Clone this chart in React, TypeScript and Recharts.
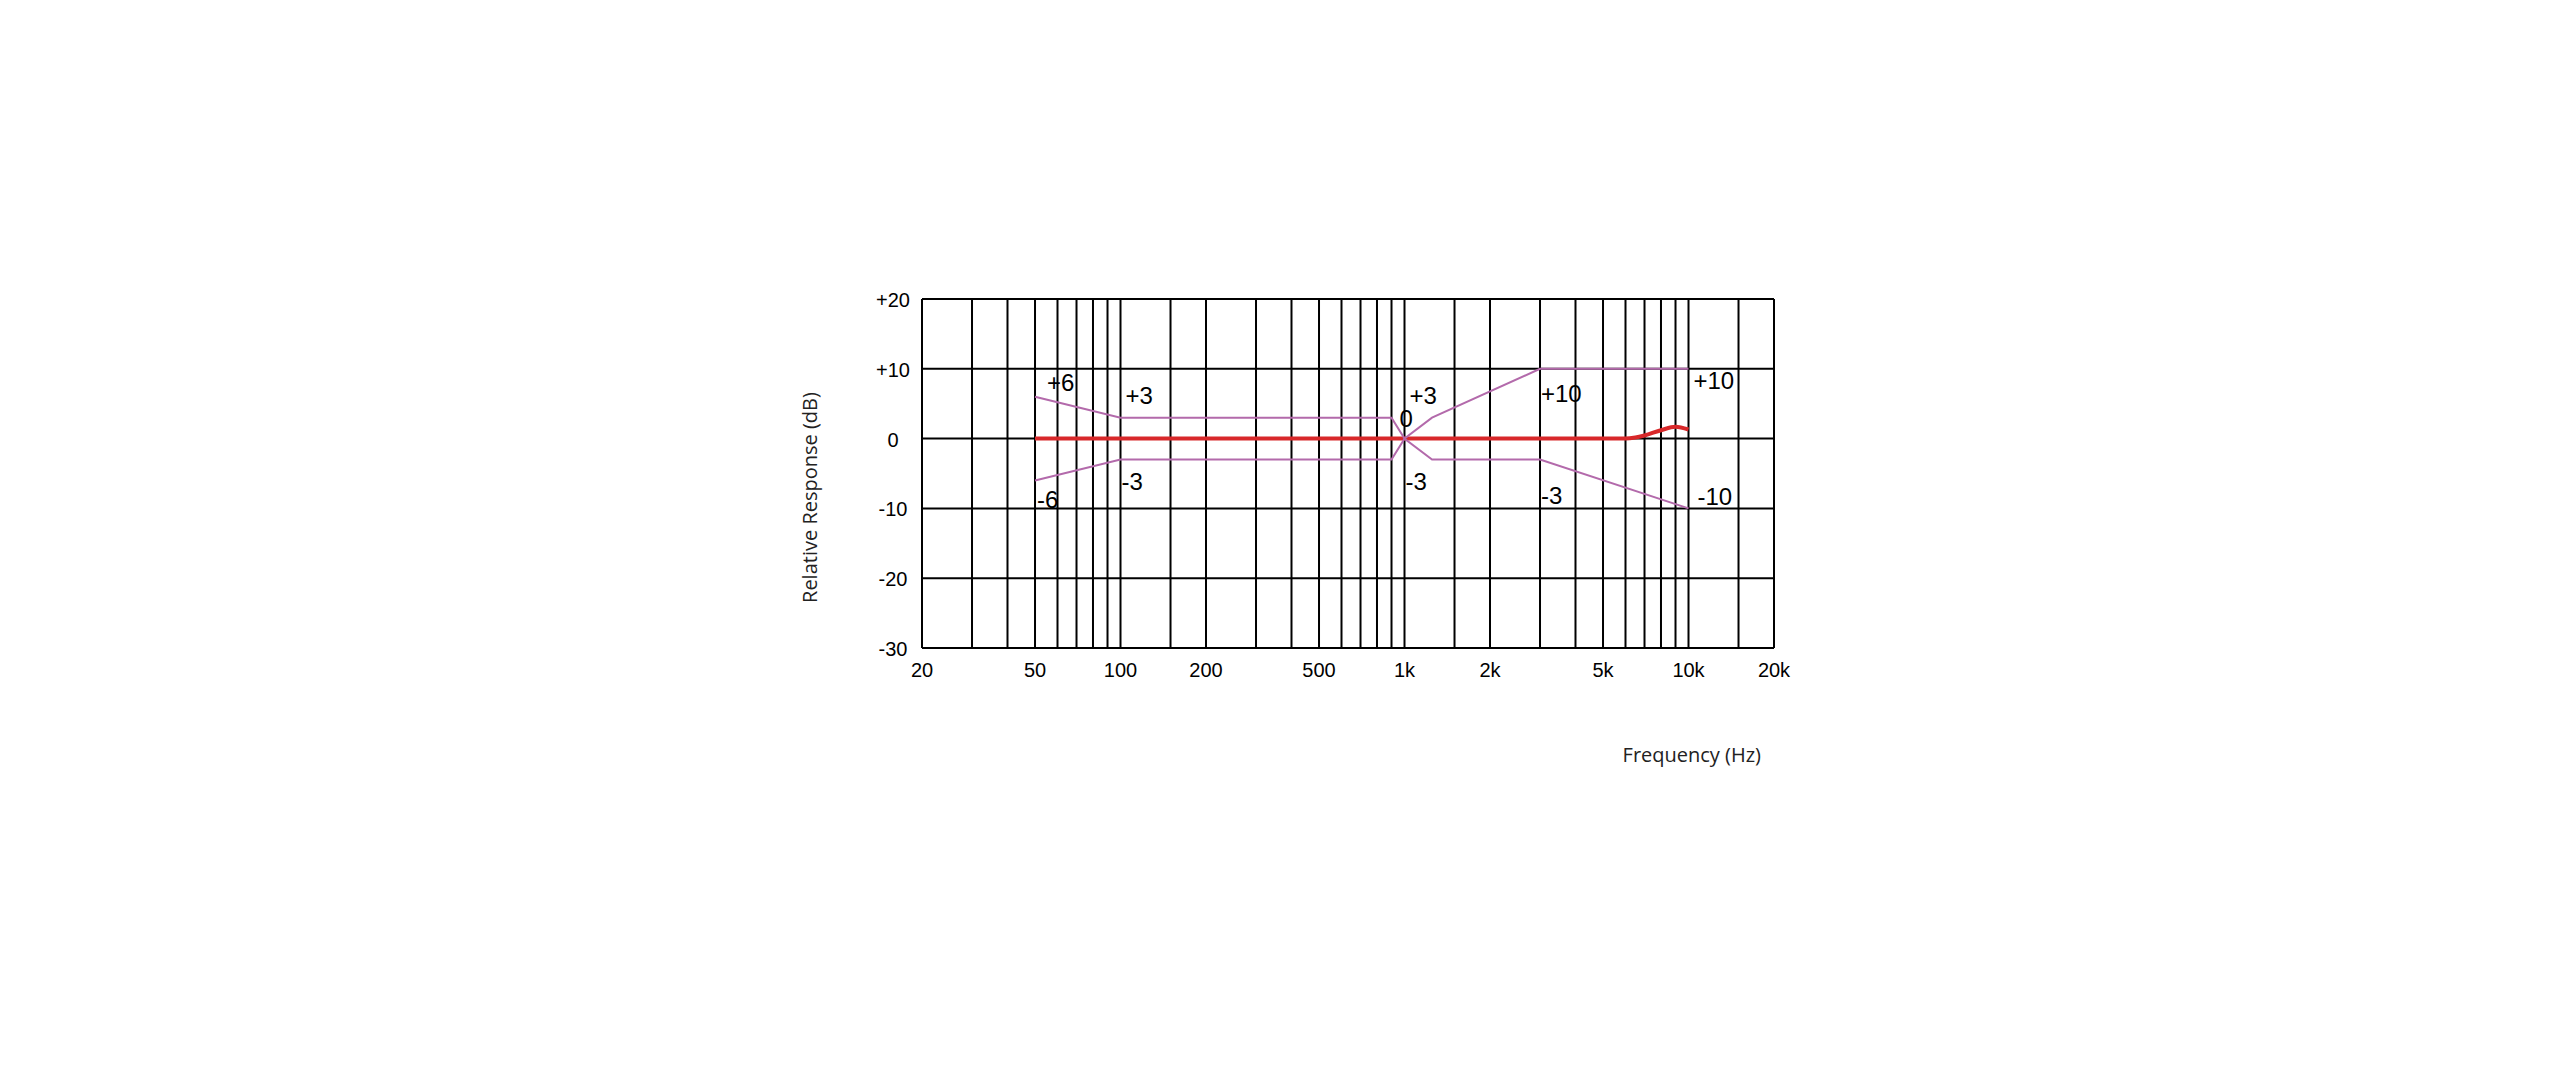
import React from "react";
import {
  LineChart,
  Line,
  XAxis,
  YAxis,
  CartesianGrid,
  ReferenceDot,
  Label,
} from "recharts";

// grid frequencies (Hz) – every one gets a vertical line, only some get a label
const gridFreqs = [
  20, 30, 40, 50, 60, 70, 80, 90, 100, 150, 200, 300, 400, 500, 600, 700, 800,
  900, 1000, 1500, 2000, 3000, 4000, 5000, 6000, 7000, 8000, 9000, 10000,
  15000, 20000,
];
const freqLabels: Record<number, string> = {
  20: "20",
  50: "50",
  100: "100",
  200: "200",
  500: "500",
  1000: "1k",
  2000: "2k",
  5000: "5k",
  10000: "10k",
  20000: "20k",
};
const dbTicks = [-30, -20, -10, 0, 10, 20];

// tolerance mask
const limitFreqs = [50, 100, 900, 1000, 1250, 3000, 10000];
const upperDb = [6, 3, 3, 0, 3, 10, 10];
const lowerDb = [-6, -3, -3, 0, -3, -3, -10];

// measured response
const responseFreqs = [50, 1000, 6000, 6500, 7000, 8000, 9000, 10000];
const responseDb = [0, 0, 0, 0.15, 0.45, 1.2, 1.7, 1.3];

// tolerance annotations
const noteFreqs = [50, 50, 100, 100, 1000, 1000, 1000, 3000, 3000, 10000, 10000];
const noteDb = [6, -6, 3, -3, 0, 3, -3, 10, -3, 10, -10];
const noteText = ["+6", "-6", "+3", "-3", "0", "+3", "-3", "+10", "-3", "+10", "-10"];

// text placement relative to each annotation point: [dx, baseline dy]
const noteOffsets = [
  [12, -6], [2, 28], [5, -14], [1, 30], [-5, -12], [5, -14], [1, 30],
  [1, 33], [1, 44], [5, 20], [9, -3],
];

const upperData = limitFreqs.map((f, i) => ({ f, db: upperDb[i] }));
const lowerData = limitFreqs.map((f, i) => ({ f, db: lowerDb[i] }));
const responseData = responseFreqs.map((f, i) => ({ f, db: responseDb[i] }));

const ARIAL = "'Liberation Sans', Arial, sans-serif";
const TITLE_FONT = "'Open Sans', 'Noto Sans', sans-serif";
const MASK = "#b36aab";

function FreqTick({ x, y, payload }: any) {
  const text = freqLabels[payload.value];
  if (!text) return <g />;
  return (
    <text x={x} y={y + 29} textAnchor="middle" fontFamily={ARIAL} fontSize={20} fill="#000">
      {text}
    </text>
  );
}

function DbTick({ x, y, payload }: any) {
  const v = payload.value;
  return (
    <text x={x - 29} y={y + 8} textAnchor="middle" fontFamily={ARIAL} fontSize={20} fill="#000">
      {v > 0 ? `+${v}` : `${v}`}
    </text>
  );
}

export default function App() {
  return (
    <div style={{ position: "absolute", left: 0, top: 0, width: 2560, height: 1089, background: "#fff" }}>
      <LineChart
        width={2560}
        height={1089}
        margin={{ top: 299, right: 786, bottom: 401, left: 862 }}
      >
        <CartesianGrid stroke="#000" strokeWidth={2} />
        <XAxis
          dataKey="f"
          type="number"
          scale="log"
          domain={[20, 20000]}
          ticks={gridFreqs}
          interval={0}
          allowDataOverflow
          height={40}
          tickLine={false}
          tickSize={0}
          tickMargin={0}
          axisLine={{ stroke: "#000", strokeWidth: 2 }}
          tick={<FreqTick />}
        >
          <Label
            content={({ viewBox }: any) => (
              <text
                x={viewBox.x + viewBox.width - 13}
                y={viewBox.y + 114}
                textAnchor="end"
                fontFamily={TITLE_FONT}
                fontSize={20}
                fill="#222"
              >
                Frequency (Hz)
              </text>
            )}
          />
        </XAxis>
        <YAxis
          type="number"
          domain={[-30, 20]}
          ticks={dbTicks}
          interval={0}
          width={60}
          tickLine={false}
          tickSize={0}
          tickMargin={0}
          axisLine={{ stroke: "#000", strokeWidth: 2 }}
          tick={<DbTick />}
        >
          <Label
            content={({ viewBox }: any) => {
              const lx = viewBox.x - 45;
              const ly = viewBox.y + viewBox.height / 2 + 24;
              return (
                <text
                  x={lx}
                  y={ly}
                  transform={`rotate(-90, ${lx}, ${ly})`}
                  textAnchor="middle"
                  fontFamily={TITLE_FONT}
                  fontSize={20}
                  fill="#222"
                >
                  Relative Response (dB)
                </text>
              );
            }}
          />
        </YAxis>

        <Line
          data={responseData}
          dataKey="db"
          type="monotone"
          stroke="#d8282a"
          strokeWidth={4}
          dot={false}
          activeDot={false}
          isAnimationActive={false}
        />
        <Line
          data={upperData}
          dataKey="db"
          type="linear"
          stroke={MASK}
          strokeWidth={2}
          dot={false}
          activeDot={false}
          isAnimationActive={false}
        />
        <Line
          data={lowerData}
          dataKey="db"
          type="linear"
          stroke={MASK}
          strokeWidth={2}
          dot={false}
          activeDot={false}
          isAnimationActive={false}
        />

        {noteText.map((t, i) => (
          <ReferenceDot
            key={i}
            x={noteFreqs[i]}
            y={noteDb[i]}
            r={0}
            shape={(p: any) => (
              <text
                x={p.cx + noteOffsets[i][0]}
                y={p.cy + noteOffsets[i][1]}
                fontFamily={ARIAL}
                fontSize={24}
                fill="#000"
              >
                {t}
              </text>
            )}
          />
        ))}
      </LineChart>
    </div>
  );
}
